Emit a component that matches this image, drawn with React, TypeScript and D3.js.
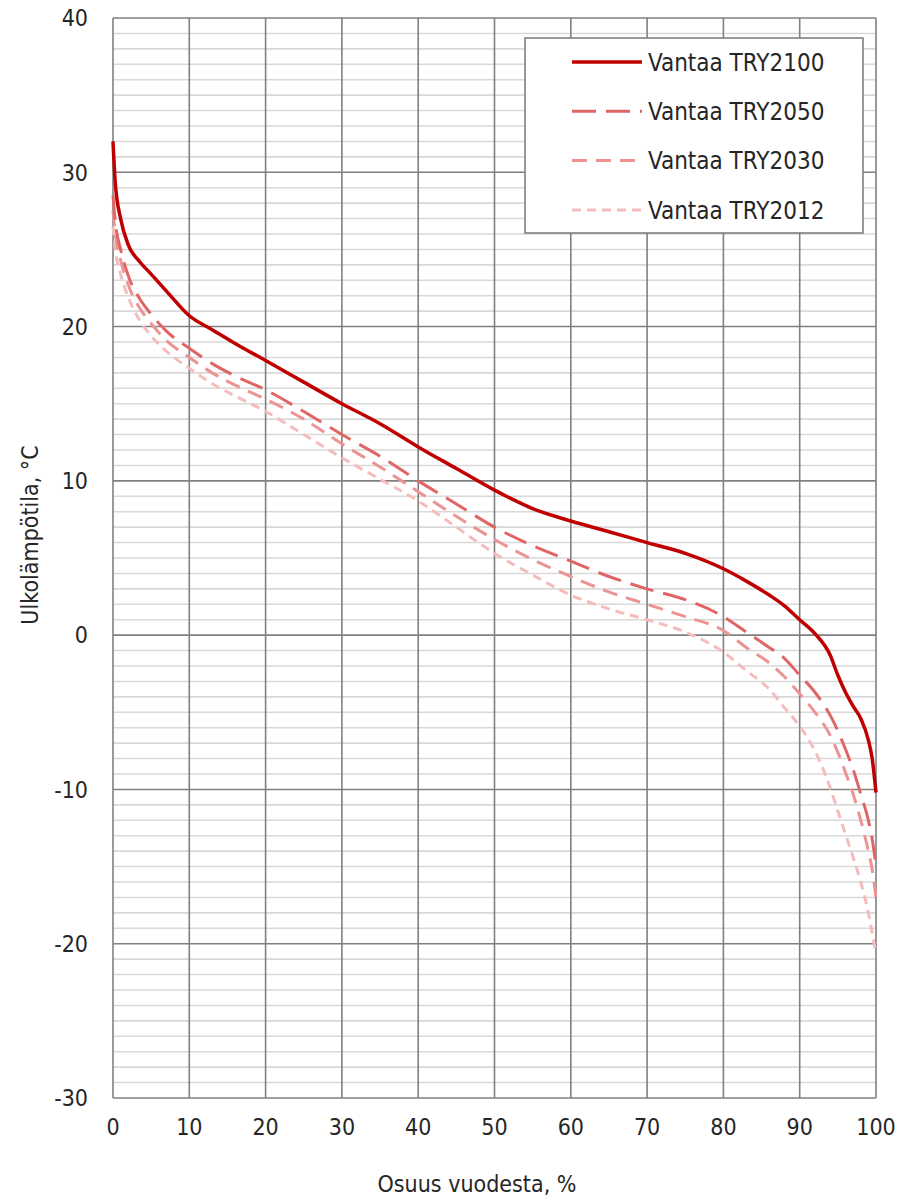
import React from "react";
import * as d3 from "d3";

// share of year (%) at which each temperature is read
const pct = [0, 0.3, 1, 2, 3.5, 5, 7, 10, 13, 16, 20, 25, 30, 35, 40, 45, 50, 55, 60, 65, 70, 75, 80, 83, 86, 88, 90, 92, 94, 95, 96, 97, 98, 99, 99.5, 100];

const try2100 = [32, 29.3, 27.0, 25.3, 24.2, 23.4, 22.3, 20.7, 19.8, 18.9, 17.8, 16.4, 15.0, 13.7, 12.2, 10.8, 9.4, 8.2, 7.4, 6.7, 6.0, 5.3, 4.3, 3.5, 2.6, 1.9, 1.0, 0.1, -1.3, -2.6, -3.7, -4.6, -5.4, -6.8, -8.0, -10.2];
const try2050 = [28.5, 26.8, 25.0, 23.3, 21.8, 20.8, 19.7, 18.6, 17.6, 16.8, 15.9, 14.5, 13.0, 11.6, 10.0, 8.5, 7.0, 5.8, 4.8, 3.8, 3.0, 2.3, 1.2, 0.2, -0.8, -1.5, -2.6, -3.7, -5.2, -6.2, -7.4, -8.7, -10.3, -12.0, -13.2, -15.0];
const try2030 = [27.5, 26, 24.3, 22.7, 21.2, 20.2, 19.1, 18.0, 17.0, 16.2, 15.3, 14.0, 12.4, 10.9, 9.3, 7.7, 6.2, 4.9, 3.8, 2.8, 2.0, 1.2, 0.3, -0.8, -1.8, -2.7, -3.8, -5.0, -6.5, -7.6, -8.9, -10.3, -12.0, -14.0, -15.2, -17.0];
const try2012 = [26.5, 25, 23.4, 21.9, 20.4, 19.4, 18.4, 17.3, 16.3, 15.5, 14.5, 13.0, 11.5, 10.1, 8.7, 7.0, 5.3, 3.9, 2.6, 1.7, 1.0, 0.2, -1.1, -2.3, -3.5, -4.7, -5.9, -7.5, -9.9, -11.4, -12.9, -14.4, -16.0, -18.0, -19.3, -20.7];

const seriesNames = ["Vantaa TRY2100", "Vantaa TRY2050", "Vantaa TRY2030", "Vantaa TRY2012"];
const seriesValues = [try2100, try2050, try2030, try2012];
const seriesColors = ["#c00000", "#e06666", "#ec9494", "#f4bcbc"];
const seriesDash = [null, "24,10", "15,9", "9,6"];

const xTicks = [0, 10, 20, 30, 40, 50, 60, 70, 80, 90, 100];
const yTicks = [-30, -20, -10, 0, 10, 20, 30, 40];

const FONT = "'DejaVu Sans Condensed', 'Liberation Sans Narrow', sans-serif";

export default function App() {
  const width = 898;
  const height = 1199;

  const x = d3.scaleLinear().domain([0, 100]).range([113, 876]);
  const y = d3.scaleLinear().domain([-30, 40]).range([1098, 18]);

  const line = d3.line<[number, number]>()
    .x(d => x(d[0]))
    .y(d => y(d[1]))
    .curve(d3.curveMonotoneX);

  const minorY = d3.range(-30, 41, 1).filter(v => v % 10 !== 0);

  return (
    <svg width={width} height={height} style={{ position: "absolute", left: 0, top: 0, background: "#fff" }}
      fontFamily={FONT}>
      <rect x={0} y={0} width={width} height={height} fill="#fff" />
      {/* minor gridlines */}
      {minorY.map(v => (
        <line key={"m" + v} x1={x(0)} x2={x(100)} y1={y(v)} y2={y(v)} stroke="#d9d9d9" strokeWidth={1.6} />
      ))}
      {/* major gridlines */}
      {yTicks.map(v => (
        <line key={"hy" + v} x1={x(0)} x2={x(100)} y1={y(v)} y2={y(v)} stroke="#808080" strokeWidth={1.6} />
      ))}
      {xTicks.map(v => (
        <line key={"vx" + v} x1={x(v)} x2={x(v)} y1={y(40)} y2={y(-30)} stroke="#808080" strokeWidth={1.6} />
      ))}

      {/* series, lightest first */}
      {seriesValues.map((vals, i) => i).reverse().map(i => (
        <path key={seriesNames[i]}
          d={line(pct.map((p, j) => [p, seriesValues[i][j]] as [number, number])) || ""}
          fill="none" stroke={seriesColors[i]} strokeWidth={i === 0 ? 3.5 : 3}
          strokeDasharray={seriesDash[i] || undefined} strokeLinejoin="round" />
      ))}

      {/* tick labels */}
      {yTicks.map(v => (
        <text key={"ty" + v} x={88} y={y(v)} dy="0.36em" textAnchor="end" fontSize={23} fill="#262626">{v}</text>
      ))}
      {xTicks.map(v => (
        <text key={"tx" + v} x={x(v)} y={1127} dy="0.36em" textAnchor="middle" fontSize={23} fill="#262626">{v}</text>
      ))}

      {/* axis titles */}
      <text transform={`translate(30,535) rotate(-90)`} textAnchor="middle" dy="0.36em" fontSize={23} fill="#262626">
        Ulkolämpötila, °C
      </text>
      <text x={477} y={1184} textAnchor="middle" dy="0.36em" fontSize={23} fill="#262626">Osuus vuodesta, %</text>

      {/* legend */}
      <g>
        <rect x={525} y={38} width={338} height={195} fill="#fff" stroke="#808080" strokeWidth={1.6} />
        {seriesNames.map((name, i) => {
          const ly = 62 + i * 49.3;
          return (
            <g key={"lg" + i}>
              <line x1={572} x2={642} y1={ly} y2={ly} stroke={seriesColors[i]} strokeWidth={i === 0 ? 3.5 : 3}
                strokeDasharray={seriesDash[i] || undefined} />
              <text x={648} y={ly} dy="0.36em" fontSize={24} fill="#262626">{name}</text>
            </g>
          );
        })}
      </g>
    </svg>
  );
}
